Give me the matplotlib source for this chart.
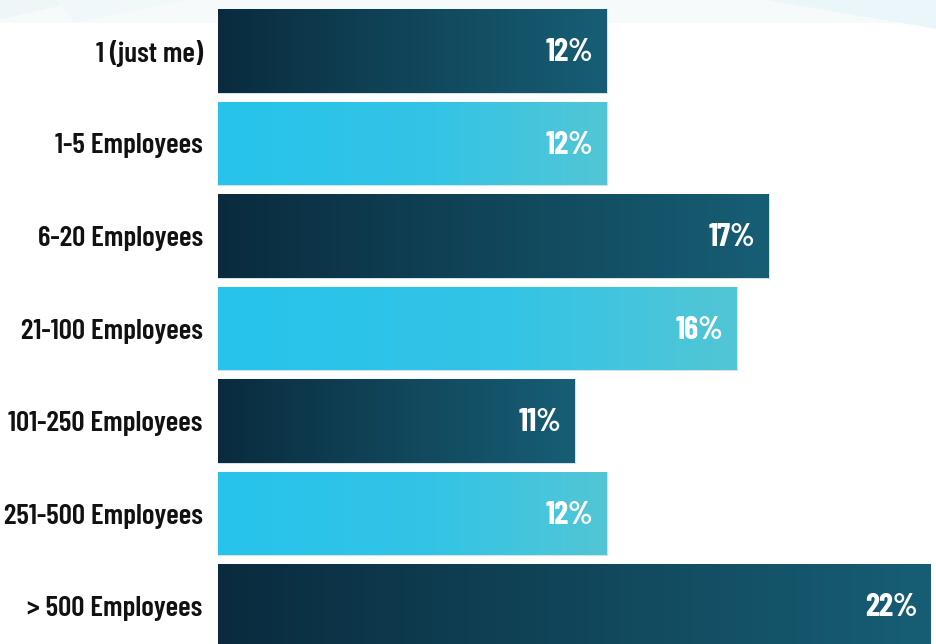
import numpy as np
import matplotlib.pyplot as plt
from matplotlib.colors import LinearSegmentedColormap
from matplotlib.patches import Polygon, Rectangle

# Company size breakdown (share of respondents, %)
categories = ['1 (just me)', '1-5 Employees', '6-20 Employees', '21-100 Employees',
              '101-250 Employees', '251-500 Employees', '> 500 Employees']
shares = [12, 12, 17, 16, 11, 12, 22]
value_labels = ['12%', '12%', '17%', '16%', '11%', '12%', '22%']

dark_cmap = LinearSegmentedColormap.from_list(
    'dark', [(0, '#0a2b3e'), (0.5, '#11465a'), (1, '#175e75')])
light_cmap = LinearSegmentedColormap.from_list(
    'light', [(0, '#27c3eb'), (0.55, '#33c4e6'), (1, '#52c6d5')])

label_font = dict(family=['Barlow Condensed', 'Roboto Condensed', 'Oswald', 'DejaVu Sans'],
                  fontweight=600, fontsize=21)
value_font = dict(family=['Barlow Condensed', 'Roboto Condensed', 'DejaVu Sans'],
                  fontweight='bold', fontsize=23)

fig = plt.figure(figsize=(9.36, 6.44), dpi=100)
fig.patch.set_facecolor('white')

# faint decorative strip along the top edge
deco = [Rectangle((0, 0.965), 1, 0.035),
        Polygon([(0.0, 0.97), (0.09, 1.0), (0.0, 1.0)], closed=True),
        Polygon([(0.08, 0.965), (0.2, 1.0), (0.06, 1.0)], closed=True),
        Polygon([(0.82, 1.0), (1.0, 0.955), (1.0, 1.0)], closed=True)]
for p, c in zip(deco, ['#f7fafb', '#eef6f8', '#f1f8fa', '#eaf6f9']):
    p.set_transform(fig.transFigure)
    p.set_facecolor(c)
    p.set_edgecolor('none')
    p.set_zorder(-5)
    fig.patches.append(p)

ax = fig.add_axes([218 / 936, 0, 713 / 936, 1])
ax.set_facecolor('none')
ypos = np.arange(len(categories))
colors = ['#0f3a4f' if i % 2 == 0 else '#2bc3ea' for i in ypos]
bars = ax.barh(ypos, shares, height=0.905, color=colors, edgecolor='#cfe3ea', linewidth=0.8)

gradient = np.linspace(0, 1, 256).reshape(1, -1)
for i, bar in enumerate(bars):
    x0, y0 = bar.get_x(), bar.get_y()
    w, h = bar.get_width(), bar.get_height()
    cmap = dark_cmap if i % 2 == 0 else light_cmap
    im = ax.imshow(gradient, cmap=cmap, aspect='auto', extent=(x0, x0 + w, y0 + h, y0),
                   zorder=bar.get_zorder() + 0.1, interpolation='bicubic')
    im.set_clip_path(bar)
    ax.text(x0 + w - 0.42, i + 0.02, value_labels[i], ha='right', va='center',
            color='white', zorder=5, **value_font)

ax.set_xlim(0, 22)
ax.set_ylim(6.41, -0.551)
ax.set_yticks(ypos)
ax.set_yticklabels(categories, **label_font)
ax.tick_params(axis='y', length=0, pad=11, colors='#111111')
ax.set_xticks([])
for side in ax.spines.values():
    side.set_visible(False)

fig.savefig('out.png', dpi=100, facecolor=fig.get_facecolor())
